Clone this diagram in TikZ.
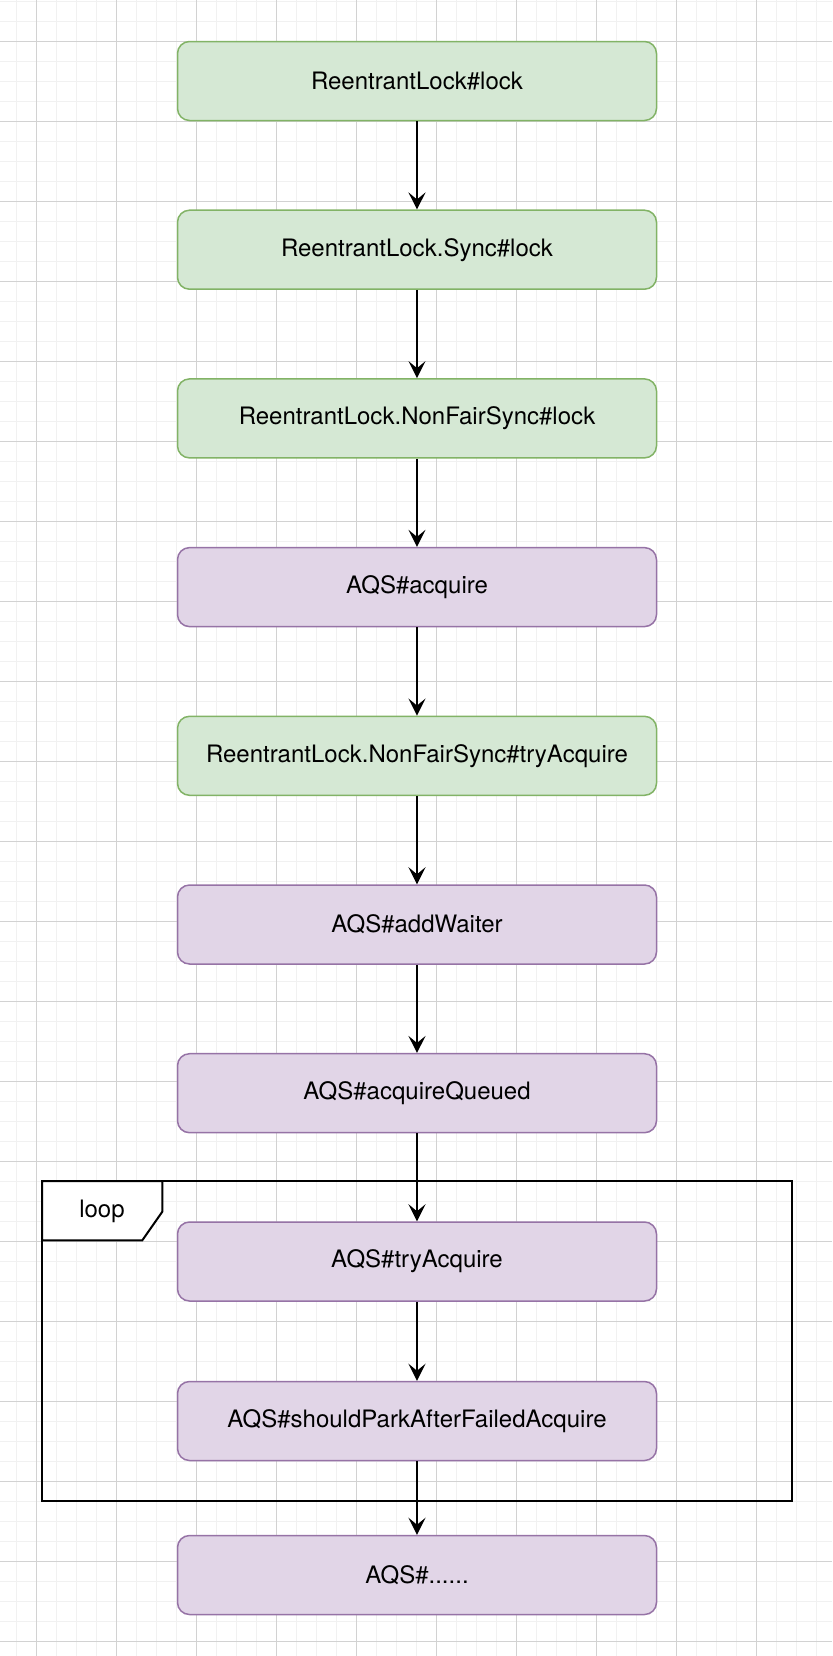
\documentclass[tikz,border=0pt]{standalone}
\usepackage{fontspec}
\setmainfont{TeX Gyre Heros}
\usetikzlibrary{arrows.meta}

\definecolor{lockfill}{HTML}{D5E8D4}
\definecolor{lockline}{HTML}{82B366}
\definecolor{aqsfill}{HTML}{E1D5E7}
\definecolor{aqsline}{HTML}{9673A6}
\definecolor{minorgrid}{HTML}{F1F1F1}
\definecolor{majorgrid}{HTML}{D2D2D2}

\begin{document}
\begin{tikzpicture}[x=0.5pt, y=-0.5pt,
    box/.style={draw, rounded corners=6pt, line width=0.75pt, minimum width=239.5pt, minimum height=39.5pt, font=\fontsize{12}{14}\selectfont},
    lockbox/.style={box, fill=lockfill, draw=lockline},
    aqsbox/.style={box, fill=aqsfill, draw=aqsline},
    flow/.style={-{Stealth[length=8.5pt, width=8.5pt, inset=3.5pt]}, line width=1pt},
    frame/.style={draw=black, line width=1pt}
]
    \useasboundingbox (0,0) rectangle (832,1656);

    % Background grid
    \foreach \x in {16.3,36.3,...,832} {
        \draw[minorgrid, line width=0.7pt] (\x,0) -- (\x,1656);
    }
    \foreach \y in {1.3,21.3,...,1656} {
        \draw[minorgrid, line width=0.7pt] (0,\y) -- (832,\y);
    }
    \foreach \x in {36.3,116.3,...,832} {
        \draw[majorgrid, line width=0.5pt] (\x,0) -- (\x,1656);
    }
    \foreach \y in {41.3,121.3,...,1656} {
        \draw[majorgrid, line width=0.5pt] (0,\y) -- (832,\y);
    }

    % Loop frame
    \draw[frame] (42,1181) rectangle (792,1500.7);
    \draw[frame, fill=white] (42,1181) -- (162.3,1181) -- (162.3,1211.7) -- (142.3,1240.3) -- (42,1240.3) -- cycle;
    \node[font=\fontsize{12}{14}\selectfont] (looplabel) at (102,1211) {loop};

    % Call chain
    \node[lockbox] (lock) at (417,81) {ReentrantLock\#lock};
    \node[lockbox] (synclock) at (417,249.7) {ReentrantLock.Sync\#lock};
    \node[lockbox] (nonfairlock) at (417,418.4) {ReentrantLock.NonFairSync\#lock};
    \node[aqsbox] (acquire) at (417,587.1) {AQS\#acquire};
    \node[lockbox] (nonfairtry) at (417,755.8) {ReentrantLock.NonFairSync\#tryAcquire};
    \node[aqsbox] (addwaiter) at (417,924.5) {AQS\#addWaiter};
    \node[aqsbox] (acqqueued) at (417,1093.2) {AQS\#acquireQueued};
    \node[aqsbox] (tryacq) at (417,1261.5) {AQS\#tryAcquire};
    \node[aqsbox] (shouldpark) at (417,1421) {AQS\#shouldParkAfterFailedAcquire};
    \node[aqsbox] (rest) at (417,1575) {AQS\#......};

    % Arrows
    \draw[flow] (lock) -- (synclock);
    \draw[flow] (synclock) -- (nonfairlock);
    \draw[flow] (nonfairlock) -- (acquire);
    \draw[flow] (acquire) -- (nonfairtry);
    \draw[flow] (nonfairtry) -- (addwaiter);
    \draw[flow] (addwaiter) -- (acqqueued);
    \draw[flow] (acqqueued) -- (tryacq);
    \draw[flow] (tryacq) -- (shouldpark);
    \draw[flow] (shouldpark) -- (rest);
\end{tikzpicture}
\end{document}
